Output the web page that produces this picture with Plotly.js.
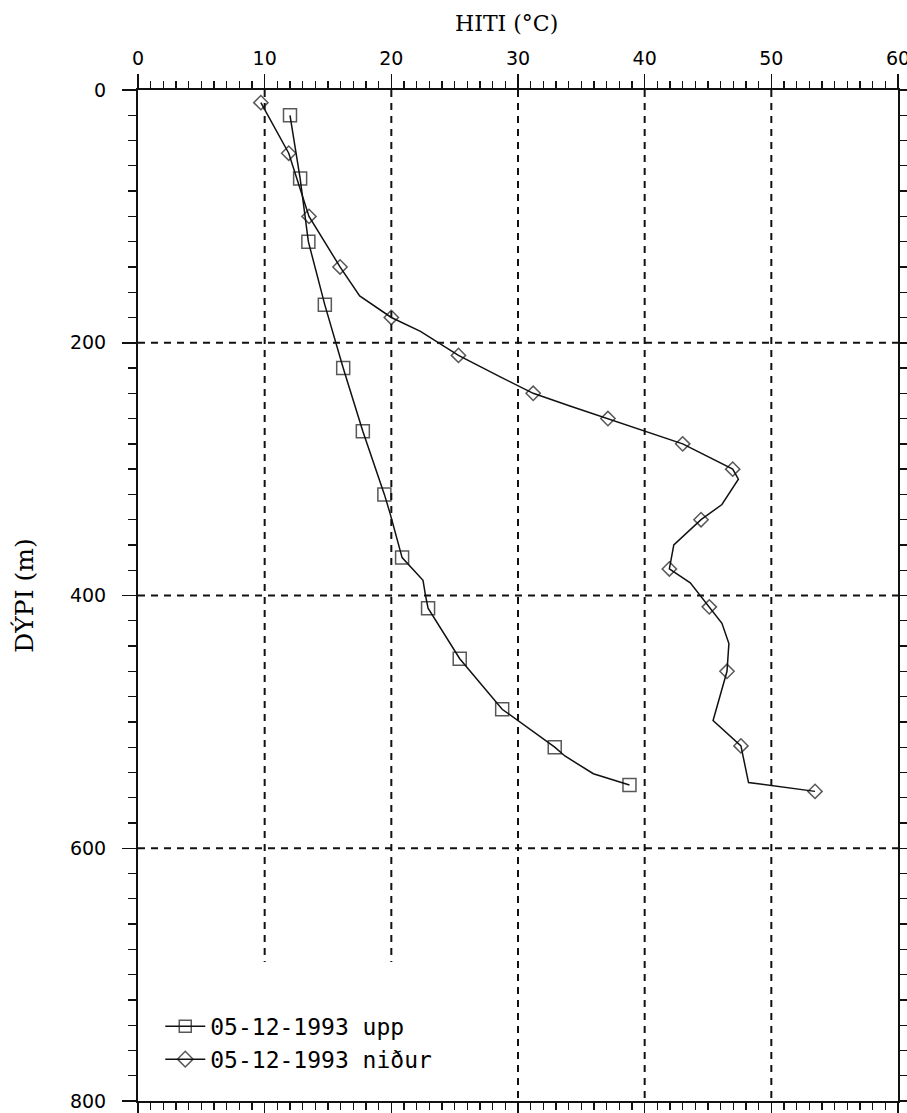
<!DOCTYPE html>
<html>
<head>
<meta charset="utf-8">
<script src="https://cdn.plot.ly/plotly-3.0.1.min.js"></script>
<style>html,body{margin:0;padding:0;background:#fff;}#chart{width:907px;height:1113px;}</style>
</head>
<body>
<div id="chart"></div>
<script>
// --- Data: "upp" profile (temperature °C, depth m, 1 = measured point with marker)
var uppTemp  = [12.0, 12.8, 13.45, 14.75, 16.2, 17.75, 19.45, 19.9, 20.85, 22.5, 22.7, 22.9, 25.4, 28.75, 32.9, 33.7, 35.95, 38.8];
var uppDepth = [20,   70,   120,   170,   220,  270,   320,   335,  370,   388,  400,  410,  450,  490,   520,  527,  541,   550];
var uppMark  = [1,    1,    1,     1,     1,    1,     1,     0,    1,     0,    0,    1,    1,    1,     1,    0,    0,     1];

// --- Data: "niður" profile
var nidurTemp  = [9.7, 11.9, 13.5, 15.95, 17.5, 20.0, 22.3, 25.3, 28.6, 31.2, 34.1, 37.1, 43.0, 46.95, 47.4, 46.1, 44.45, 42.3, 41.95, 43.6, 45.1, 46.1, 46.65, 46.5, 45.4, 47.6, 48.2, 53.45];
var nidurDepth = [10,  50,   100,  140,   163,  180,  191,  210,  227,  240,  250,  260,  280,  300,   308,  328,  340,   360,  379,   390,  409,  422,  438,   460,  499,  519,  548,  555];
var nidurMark  = [1,   1,    1,    1,     0,    1,    0,    1,    0,    1,    0,    1,    1,    1,     0,    0,    1,     0,    1,     0,    1,    0,    0,     1,    0,    1,    0,    1];

var seriesNames = ['05-12-1993 upp', '05-12-1993 niður'];
var xTitle = 'HITI (°C)';
var yTitle = 'DÝPI (m)';

// --- Axis / grid values
var xTickVals = [0, 10, 20, 30, 40, 50, 60];
var yTickVals = [0, 200, 400, 600, 800];
var gridX = [10, 20, 30, 40, 50];
var gridY = [200, 400, 600];

function sizes(mark, s) { return mark.map(function (m) { return m ? s : 0; }); }

var traces = [
  {
    x: uppTemp, y: uppDepth, name: seriesNames[0], type: 'scatter', mode: 'lines+markers',
    line: {color: '#111', width: 1.5},
    marker: {symbol: 'square-open', size: sizes(uppMark, 13), color: '#111', line: {width: 1.5, color: '#111'}}
  },
  {
    x: nidurTemp, y: nidurDepth, name: seriesNames[1], type: 'scatter', mode: 'lines+markers',
    line: {color: '#111', width: 1.5},
    marker: {symbol: 'diamond-open', size: sizes(nidurMark, 11), color: '#111', line: {width: 1.5, color: '#111'}}
  }
];

var gridStyle = {color: '#111', width: 2, dash: '7px,6px'};
var shapes = [];
gridX.forEach(function (v) {
  shapes.push({type: 'line', xref: 'x', yref: 'y', x0: v, x1: v, y0: 0, y1: (v <= 20 ? 690 : 800), line: gridStyle, layer: 'below'});
});
gridY.forEach(function (v) {
  shapes.push({type: 'line', xref: 'x', yref: 'y', x0: 0, x1: 60, y0: v, y1: v, line: gridStyle, layer: 'below'});
});

var tickFont = {family: 'DejaVu Sans', size: 19, color: '#000'};
var layout = {
  width: 907, height: 1113,
  margin: {l: 138, r: 9, t: 90, b: 12},
  paper_bgcolor: '#fff', plot_bgcolor: '#fff',
  showlegend: true,
  legend: {
    x: 0.0293, y: 0.02, xanchor: 'left', yanchor: 'bottom',
    bgcolor: 'rgba(0,0,0,0)', borderwidth: 0, itemsizing: 'constant', itemwidth: 40,
    font: {family: 'DejaVu Sans Mono', size: 23, color: '#000'}
  },
  xaxis: {
    range: [0, 60], side: 'top', tickmode: 'array', tickvals: xTickVals,
    ticks: 'outside', ticklen: 14, tickwidth: 1.5, tickcolor: '#111',
    showline: true, linewidth: 2, linecolor: '#111', mirror: 'allticks',
    minor: {dtick: 1, ticks: 'outside', ticklen: 7, tickwidth: 1.3, tickcolor: '#111'},
    showgrid: false, zeroline: false, tickfont: tickFont, ticklabelstandoff: 1,
    ticklabeloverflow: 'allow'
  },
  yaxis: {
    range: [800, 0], tickmode: 'array', tickvals: yTickVals,
    ticks: 'outside', ticklen: 14, tickwidth: 1.5, tickcolor: '#111',
    showline: true, linewidth: 2, linecolor: '#111', mirror: 'allticks',
    minor: {dtick: 20, ticks: 'outside', ticklen: 8, tickwidth: 1.3, tickcolor: '#111'},
    showgrid: false, zeroline: false, tickfont: tickFont, ticklabelstandoff: 12,
    ticklabeloverflow: 'allow',
    title: {text: yTitle, font: {family: 'DejaVu Serif', size: 25, color: '#000'}, standoff: 29}
  },
  annotations: [{
    text: xTitle, xref: 'paper', yref: 'paper', x: 0.485, y: 1.0653,
    xanchor: 'center', yanchor: 'middle', showarrow: false,
    font: {family: 'DejaVu Serif', size: 22, color: '#000'}
  }],
  shapes: shapes
};

Plotly.newPlot('chart', traces, layout, {staticPlot: true, displayModeBar: false}).then(function (gd) {
  // thin legend symbol strokes like the plotter original
  gd.querySelectorAll('.legend .legendlines path').forEach(function (p) { p.style.strokeWidth = '1.5px'; });
  gd.querySelectorAll('.legend .legendpoints path').forEach(function (p) { p.style.strokeWidth = '1.5px'; });
});
</script>
</body>
</html>
